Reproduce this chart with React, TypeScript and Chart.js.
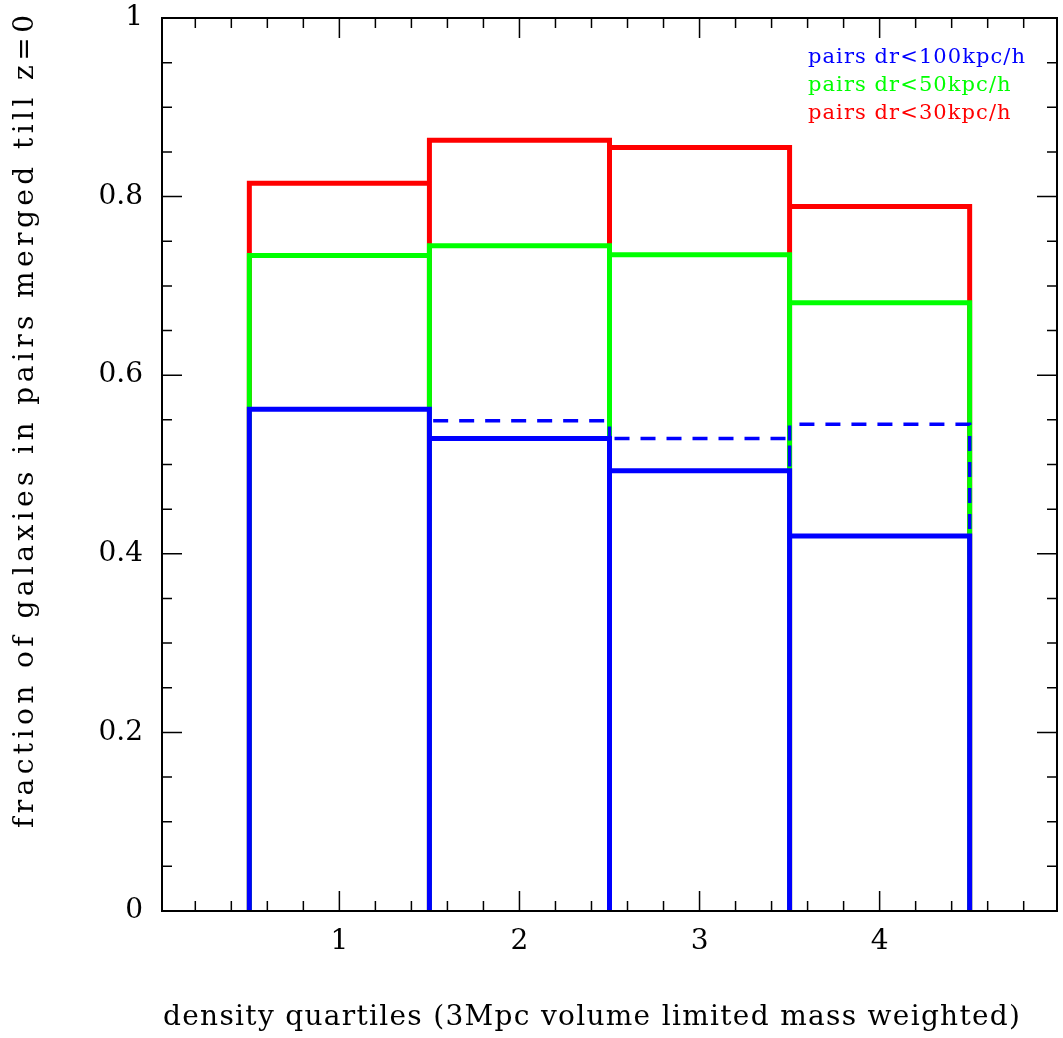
import React, { useEffect, useRef } from "react";
import { Chart, registerables } from "chart.js";

Chart.register(...registerables);

// ---- data ----
const quartiles = [1, 2, 3, 4];
const merged30 = [0.815, 0.863, 0.855, 0.789];
const merged50 = [0.734, 0.745, 0.735, 0.681];
const merged100 = [0.562, 0.529, 0.493, 0.42];
const merged100Alt: (number | null)[] = [null, 0.549, 0.529, 0.545];
const legendLabels = ["pairs dr<100kpc/h", "pairs dr<50kpc/h", "pairs dr<30kpc/h"];
const legendColors = ["#0000ff", "#00ff00", "#ff0000"];
const xTickValues = [1, 2, 3, 4];
const yTickValues = [0, 0.2, 0.4, 0.6, 0.8, 1];
const xTitle = "density quartiles (3Mpc volume limited mass weighted)";
const yTitle = "fraction of galaxies in pairs merged till z=0";

const FONT = "'DejaVu Serif', 'Liberation Serif', serif";

function histPath(centers: number[], values: (number | null)[]) {
  const pts: { x: number; y: number }[] = [];
  centers.forEach((c, i) => {
    const v = values[i];
    if (v === null || v === undefined) return;
    const l = c - 0.5;
    const r = c + 0.5;
    pts.push({ x: l, y: 0 }, { x: l, y: v }, { x: r, y: v }, { x: r, y: 0 });
  });
  return pts;
}

function fitText(ctx: CanvasRenderingContext2D, text: string, x: number, y: number, target: number) {
  (ctx as any).letterSpacing = "0px";
  const w = ctx.measureText(text).width;
  const ls = (target - w) / (text.length - 1);
  (ctx as any).letterSpacing = ls + "px";
  ctx.textAlign = "left";
  ctx.fillText(text, x, y);
  (ctx as any).letterSpacing = "0px";
  return ls;
}

const framePlugin = {
  id: "frameTicks",
  afterDraw(chart: any) {
    const { ctx, chartArea: a, scales } = chart;
    const xs = scales.x;
    const ys = scales.y;
    ctx.save();
    ctx.strokeStyle = "#000";
    ctx.lineWidth = 1.5;
    ctx.beginPath();
    for (let i = 1; i < 25; i++) {
      const px = xs.getPixelForValue(i * 0.2);
      const len = i % 5 === 0 ? 20 : 10;
      ctx.moveTo(px, a.bottom);
      ctx.lineTo(px, a.bottom - len);
      ctx.moveTo(px, a.top);
      ctx.lineTo(px, a.top + len);
    }
    for (let i = 1; i < 20; i++) {
      const py = ys.getPixelForValue(i * 0.05);
      const len = i % 4 === 0 ? 20 : 10;
      ctx.moveTo(a.left, py);
      ctx.lineTo(a.left + len, py);
      ctx.moveTo(a.right, py);
      ctx.lineTo(a.right - len, py);
    }
    ctx.stroke();
    ctx.lineWidth = 2;
    ctx.strokeRect(a.left, a.top, a.right - a.left, a.bottom - a.top);

    // axis titles
    ctx.fillStyle = "#000";
    ctx.textBaseline = "alphabetic";
    ctx.font = `28px ${FONT}`;
    fitText(ctx, xTitle, 163, 1025, 857);
    ctx.save();
    ctx.translate(33, 828);
    ctx.rotate(-Math.PI / 2);
    fitText(ctx, yTitle, 0, 0, 813);
    ctx.restore();

    // legend
    ctx.font = `21px ${FONT}`;
    const baselines = [63, 91, 119];
    (ctx as any).letterSpacing = "0px";
    const w0 = ctx.measureText(legendLabels[0]).width;
    const ls = (217 - w0) / (legendLabels[0].length - 1);
    (ctx as any).letterSpacing = ls + "px";
    legendLabels.forEach((t, i) => {
      ctx.fillStyle = legendColors[i];
      ctx.fillText(t, 808, baselines[i]);
    });
    (ctx as any).letterSpacing = "0px";
    ctx.restore();
  },
};

export default function App() {
  const ref = useRef<HTMLCanvasElement | null>(null);
  useEffect(() => {
    if (!ref.current) return;
    const common = {
      fill: false,
      pointRadius: 0,
      tension: 0,
      borderJoinStyle: "miter" as const,
      borderCapStyle: "butt" as const,
    };
    const chart = new Chart(ref.current, {
      type: "line",
      data: {
        datasets: [
          { ...common, label: legendLabels[2], data: histPath(quartiles, merged30), borderColor: "#ff0000", borderWidth: 5, order: 3 },
          { ...common, label: legendLabels[1], data: histPath(quartiles, merged50), borderColor: "#00ff00", borderWidth: 5, order: 2 },
          { ...common, label: legendLabels[0], data: histPath(quartiles, merged100), borderColor: "#0000ff", borderWidth: 5, order: 1 },
          { ...common, label: "alt", data: histPath(quartiles, merged100Alt), borderColor: "#0000ff", borderWidth: 3.5, borderDash: [15, 11], order: 0 },
        ],
      },
      options: {
        animation: false,
        responsive: false,
        events: [],
        parsing: false,
        layout: { autoPadding: false, padding: { top: 18, right: 6, left: 0, bottom: 0 } },
        plugins: {
          legend: { display: false },
          tooltip: { enabled: false },
          title: { display: false },
        },
        scales: {
          x: {
            type: "linear",
            min: 0.015,
            max: 4.985,
            grid: { display: false, drawTicks: false },
            border: { display: false },
            afterBuildTicks: (s: any) => {
              s.ticks = xTickValues.map((v) => ({ value: v }));
            },
            afterFit: (s: any) => {
              s.height = 127;
              s.paddingLeft = 0;
              s.paddingRight = 0;
            },
            ticks: {
              font: { family: FONT, size: 28 },
              color: "#000",
              padding: 14,
              autoSkip: false,
              maxRotation: 0,
              callback: (v: any) => String(v),
            },
          },
          y: {
            type: "linear",
            min: 0,
            max: 1,
            grid: { display: false, drawTicks: false },
            border: { display: false },
            afterBuildTicks: (s: any) => {
              s.ticks = yTickValues.map((v) => ({ value: v }));
            },
            afterFit: (s: any) => {
              s.width = 162;
              s.paddingTop = 0;
              s.paddingBottom = 0;
            },
            ticks: {
              font: { family: FONT, size: 28 },
              color: "#000",
              padding: 19,
              autoSkip: false,
              callback: (v: any) => String(v),
            },
          },
        },
      },
      plugins: [framePlugin],
    } as any);
    return () => chart.destroy();
  }, []);
  return (
    <div style={{ position: "absolute", left: 0, top: 0, width: 1063, height: 1038, background: "#fff" }}>
      <canvas ref={ref} width={1063} height={1038} style={{ width: 1063, height: 1038, display: "block" }} />
    </div>
  );
}
